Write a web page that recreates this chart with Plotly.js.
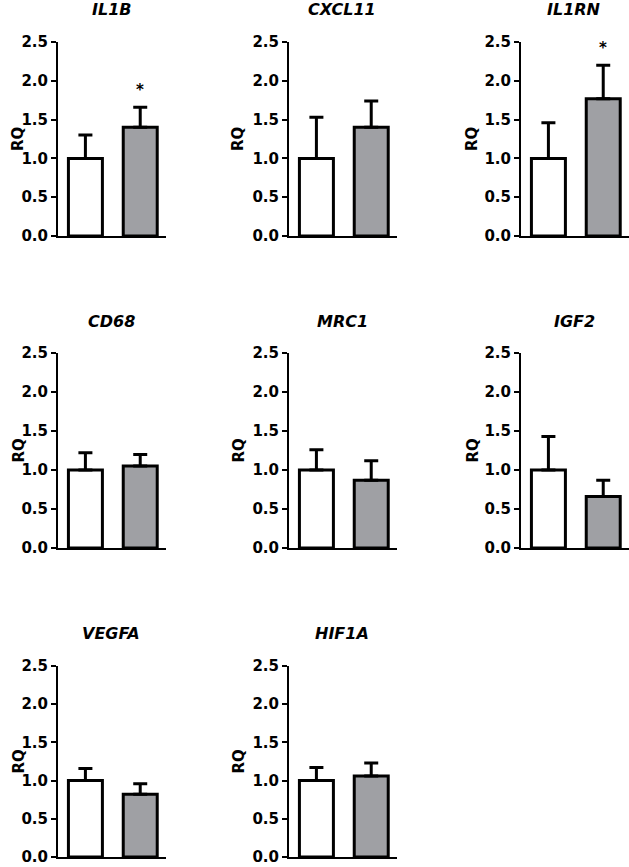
<!DOCTYPE html>
<html>
<head>
<meta charset="utf-8">
<script src="https://cdn.plot.ly/plotly-3.0.1.min.js"></script>
<style>html,body{margin:0;padding:0;background:#fff;}#chart{width:629px;height:867px;}</style>
</head>
<body>
<div id="chart"></div>
<script>
// ---- data ----
const genes = ["IL1B", "CXCL11", "IL1RN", "CD68", "MRC1", "IGF2", "VEGFA", "HIF1A"];
const groups = ["Control", "Treated"];
const controlMean = [1.0, 1.0, 1.0, 1.0, 1.0, 1.0, 1.0, 1.0];
const controlErr  = [0.30, 0.53, 0.46, 0.22, 0.26, 0.43, 0.16, 0.17];
const treatedMean = [1.40, 1.40, 1.77, 1.05, 0.87, 0.66, 0.82, 1.06];
const treatedErr  = [0.26, 0.34, 0.43, 0.15, 0.25, 0.21, 0.14, 0.17];
const significant = [true, false, true, false, false, false, false, false];
const yTicks = [0, 0.5, 1.0, 1.5, 2.0, 2.5];
const yLabel = "RQ";

// ---- layout geometry (pixels) ----
const W = 629, H = 867;
const colLeft = [58, 289, 521];
const colWidth = 108;
const rowTop = [42, 353, 666];
const rowBottom = [236, 548, 857];
const titleY = [10, 321, 633];
const rqX = [18, 238, 472];

const gray = "#9fa0a4";
const FONT = "DejaVu Sans, Liberation Sans, Arial, sans-serif";

const traces = [];
const layout = {
  width: W, height: H,
  margin: {l: 0, r: 0, t: 0, b: 0},
  paper_bgcolor: "#fff", plot_bgcolor: "#fff",
  showlegend: false,
  annotations: [],
  font: {family: FONT, color: "#000"}
};

genes.forEach((g, i) => {
  const r = Math.floor(i / 3), c = i % 3;
  const n = i + 1;
  const xa = "x" + (n === 1 ? "" : n), ya = "y" + (n === 1 ? "" : n);
  const xkey = "xaxis" + (n === 1 ? "" : n), ykey = "yaxis" + (n === 1 ? "" : n);
  const x0 = colLeft[c] / W, x1 = Math.min(1, (colLeft[c] + colWidth) / W);
  const y0 = 1 - rowBottom[r] / H, y1 = 1 - rowTop[r] / H;

  traces.push({
    type: "bar",
    x: [0, 1],
    y: [controlMean[i], treatedMean[i]],
    xaxis: xa, yaxis: ya,
    width: 0.62,
    marker: {color: ["#ffffff", gray], line: {color: "#000", width: 3}},
    error_y: {type: "data", symmetric: false, array: [controlErr[i], treatedErr[i]],
              arrayminus: [0, 0], color: "#000", thickness: 3, width: 7},
    cliponaxis: false,
    hoverinfo: "skip"
  });

  layout[xkey] = {
    domain: [x0, x1], anchor: ya, range: [-0.5, 1.47],
    showline: true, linecolor: "#000", linewidth: 2,
    showticklabels: false, ticks: "", showgrid: false, zeroline: false, fixedrange: true
  };
  layout[ykey] = {
    domain: [y0, y1], anchor: xa, range: [0, 2.5],
    tickvals: yTicks, tickformat: ".1f",
    ticks: "outside", ticklen: 5, tickwidth: 2, tickcolor: "#000",
    showline: true, linecolor: "#000", linewidth: 2,
    showgrid: false, zeroline: false, fixedrange: true,
    tickfont: {family: FONT, size: 15, color: "#000", weight: 700}
  };

  // y-axis label
  layout.annotations.push({
    text: "<b>" + yLabel + "</b>",
    xref: "paper", yref: "paper",
    x: rqX[c] / W, y: 1 - (rowTop[r] + rowBottom[r]) / 2 / H,
    xanchor: "center", yanchor: "middle", textangle: -90, showarrow: false,
    font: {family: FONT, size: 15, color: "#000"}
  });

  // panel title
  layout.annotations.push({
    text: "<b><i>" + g + "</i></b>",
    xref: "paper", yref: "paper",
    x: (colLeft[c] + 53) / W, y: 1 - titleY[r] / H,
    xanchor: "center", yanchor: "middle", showarrow: false,
    font: {family: FONT, size: 16, color: "#000"}
  });

  if (significant[i]) {
    layout.annotations.push({
      text: "<b>*</b>", xref: xa, yref: ya,
      x: 1, y: treatedMean[i] + treatedErr[i] + 0.22,
      xanchor: "center", yanchor: "middle", showarrow: false,
      font: {family: FONT, size: 15, color: "#000"}
    });
  }
});

Plotly.newPlot("chart", traces, layout, {displayModeBar: false, staticPlot: true});
</script>
</body>
</html>
